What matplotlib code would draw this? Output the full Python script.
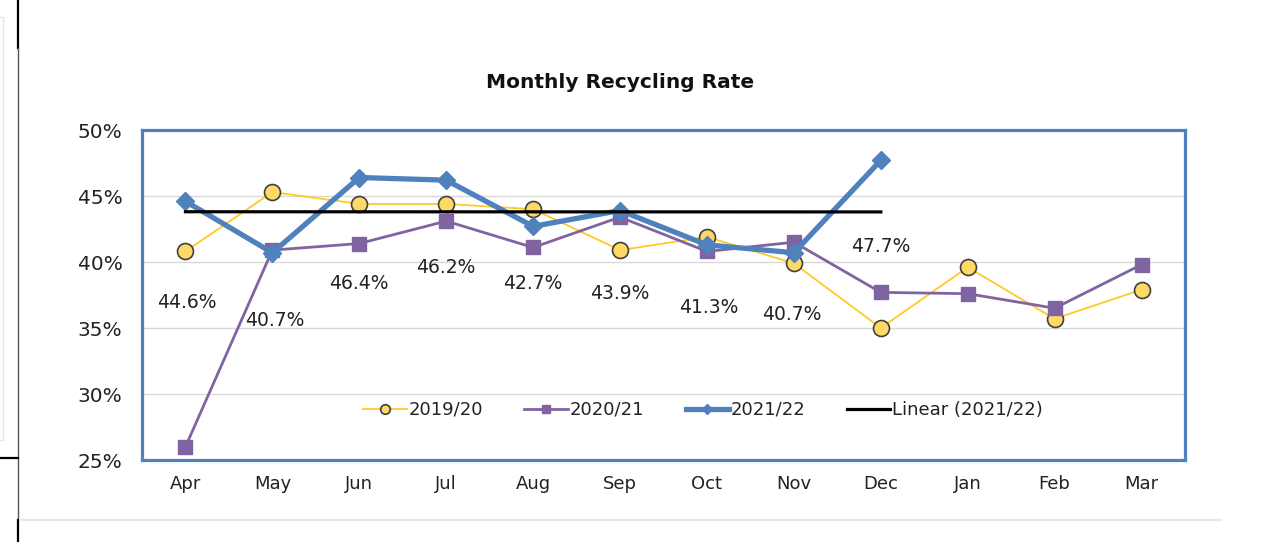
import numpy as np
import matplotlib
matplotlib.use("Agg")
import matplotlib.pyplot as plt
from matplotlib.lines import Line2D

months = ["Apr", "May", "Jun", "Jul", "Aug", "Sep", "Oct", "Nov", "Dec", "Jan", "Feb", "Mar"]
rate_1920 = [40.8, 45.3, 44.4, 44.4, 44.0, 40.9, 41.9, 39.9, 35.0, 39.6, 35.7, 37.9]
rate_2021 = [26.0, 40.9, 41.4, 43.1, 41.1, 43.4, 40.8, 41.5, 37.7, 37.6, 36.5, 39.8]
rate_2122 = [44.6, 40.7, 46.4, 46.2, 42.7, 43.9, 41.3, 40.7, 47.7]
y_ticks = [25, 30, 35, 40, 45, 50]

# label placement (pixels relative to each 2021/22 point)
label_dx = [1, 2, 0, 0, 0, 0, 2, -2, 0]
label_dy = [-101, -68, -106, -87, -57, -83, -63, -62, -86]

W, H = 1272, 542
fig = plt.figure(figsize=(W / 100, H / 100), dpi=100)
ax = fig.add_axes([142 / W, 1 - 460 / H, (1185 - 142) / W, (460 - 130) / H])

x = np.arange(len(months))
x3 = np.arange(len(rate_2122))

ax.plot(x, rate_1920, color="#FFC926", lw=1.3, marker="o", ms=11.5,
        mfc="#FFD966", mec="#3F3F3F", mew=1.2, label="2019/20", zorder=3)
ax.plot(x, rate_2021, color="#8064A2", lw=2.0, marker="s", ms=10,
        mfc="#8064A2", mec="#8064A2", label="2020/21", zorder=4)
ax.plot(x3, rate_2122, color="#4F81BD", lw=3.8, marker="D", ms=9,
        mfc="#4F81BD", mec="#4F81BD", label="2021/22", zorder=5)

# linear trend of 2021/22
k, b = np.polyfit(x3, rate_2122, 1)
ax.plot(x3, k * x3 + b, color="black", lw=2.3, label="Linear (2021/22)", zorder=6)

for i, v in enumerate(rate_2122):
    ax.annotate(f"{v:.1f}%", (x3[i], v), xytext=(label_dx[i], label_dy[i]),
                textcoords="offset pixels", ha="center", va="center",
                fontsize=13.5, color="#222222", zorder=7)

ax.set_xlim(-0.5, 11.5)
ax.set_ylim(25, 50)
ax.set_yticks(y_ticks)
ax.set_yticklabels([f"{t}%" for t in y_ticks])
ax.set_xticks(x)
ax.set_xticklabels(months)
ax.tick_params(axis="y", length=0, pad=14, labelsize=14.5, labelcolor="#222222")
ax.tick_params(axis="x", length=0, pad=11, labelsize=13, labelcolor="#222222")
ax.grid(axis="y", color="#D9D9D9", lw=1)
ax.set_axisbelow(True)
for s in ax.spines.values():
    s.set_color("#4F81BD")
    s.set_linewidth(2.3)

leg = ax.legend(loc="center", bbox_to_anchor=(0.538, 0.152), ncol=4, frameon=False,
                fontsize=13, markerscale=0.6, handlelength=2.4, handletextpad=0.1,
                columnspacing=2.3)
for t in leg.get_texts():
    t.set_color("#222222")

fig.text(620 / W, 1 - 82 / H, "Monthly Recycling Rate", ha="center", va="center",
         fontsize=14.5, fontweight="bold", color="#111111")

# page decorations around the chart
def fline(xs, ys, **kw):
    fig.add_artist(Line2D([v / W for v in xs], [1 - v / H for v in ys], **kw))

fline([18, 18], [0, 48], color="black", lw=1.6)
fline([18, 18], [48, 520], color="#555555", lw=1.0)
fline([18, 18], [520, 542], color="black", lw=1.6)
fline([0, 18], [458, 458], color="black", lw=1.6)
fline([0, 3, 3, 0], [17, 17, 440, 440], color="#E6E6E6", lw=1.0)
fline([20, 1221], [520, 520], color="#E8E8E8", lw=1.5)

fig.savefig("out.png", dpi=100, facecolor="white")
